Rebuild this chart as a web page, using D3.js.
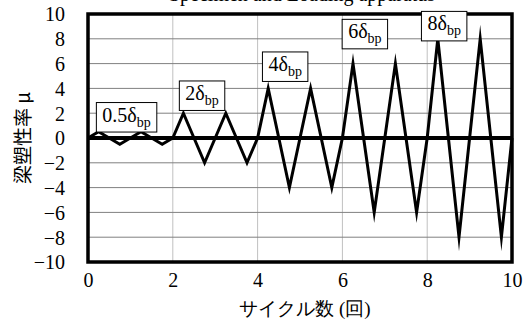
<!DOCTYPE html>
<html>
<head>
<meta charset="utf-8">
<script src="https://cdn.jsdelivr.net/npm/d3@7"></script>
<style>
  body { margin: 0; background: #fff; }
  text { font-family: "Liberation Serif", "Times New Roman", serif; }
</style>
</head>
<body>
<script>
// loading history: cycle number vs ductility ratio
var cycles = [0, 0.25, 0.5, 0.75, 1, 1.25, 1.5, 1.75, 2, 2.25, 2.5, 2.75, 3, 3.25, 3.5, 3.75, 4,
    4.25, 4.5, 4.75, 5, 5.25, 5.5, 5.75, 6, 6.25, 6.5, 6.75, 7, 7.25, 7.5, 7.75, 8,
    8.25, 8.5, 8.75, 9, 9.25, 9.5, 9.75, 10];
var mu = [0, 0.5, 0, -0.5, 0, 0.5, 0, -0.5, 0, 2, 0, -2, 0, 2, 0, -2, 0,
    4, 0, -4, 0, 4, 0, -4, 0, 6, 0, -6, 0, 6, 0, -6, 0,
    8, 0, -8, 0, 8, 0, -8, 0];

var xTicks = [0, 2, 4, 6, 8, 10];
var yTicks = [-10, -8, -6, -4, -2, 0, 2, 4, 6, 8, 10];

var labelAmp = ["0.5", "2", "4", "6", "8"];
var labelX = [0.91, 2.69, 4.65, 6.53, 8.4];
var labelY = [1.65, 3.39, 5.73, 8.36, 9.0];

var width = 529, height = 320;
var margin = {left: 88, right: 17, top: 14, bottom: 58};

var svg = d3.select("body").append("svg")
    .attr("width", width)
    .attr("height", height);

var x = d3.scaleLinear().domain([0, 10]).range([margin.left, width - margin.right]);
var y = d3.scaleLinear().domain([-10, 10]).range([height - margin.bottom, margin.top]);

// title, mostly cut off at the top (as in the source figure)
svg.append("text")
    .attr("x", 302)
    .attr("y", 1)
    .attr("text-anchor", "middle")
    .style("font-size", "20px")
    .text("Specimen and Loading apparatus");

// grid
svg.selectAll(".vgrid")
    .data(xTicks.slice(1, -1))
    .enter().append("line")
        .attr("class", "vgrid")
        .attr("x1", function(d) { return x(d) })
        .attr("x2", function(d) { return x(d) })
        .attr("y1", y(-10))
        .attr("y2", y(10))
        .style("stroke", "#c0c0c0")
        .style("stroke-width", 1);

svg.selectAll(".hgrid")
    .data(yTicks.slice(1, -1))
    .enter().append("line")
        .attr("class", "hgrid")
        .attr("x1", x(0))
        .attr("x2", x(10))
        .attr("y1", function(d) { return y(d) })
        .attr("y2", function(d) { return y(d) })
        .style("stroke", "#808080")
        .style("stroke-width", 1);

// axes labels
var xAxis = svg.append("g")
    .attr("transform", "translate(0," + y(-10) + ")")
    .call(d3.axisBottom(x).tickValues(xTicks).tickSize(0).tickPadding(21));
var yAxis = svg.append("g")
    .attr("transform", "translate(" + x(0) + ",0)")
    .call(d3.axisLeft(y).tickValues(yTicks).tickSize(0).tickPadding(23));
[xAxis, yAxis].forEach(function(a) {
    a.attr("font-family", null).attr("font-size", null);
    a.select(".domain").remove();
    a.selectAll("text")
        .style("font-size", "20px")
        .style("fill", "#000");
});
yAxis.selectAll("text").attr("dy", "0.34em");
xAxis.selectAll("text").attr("dy", "0.2em");

svg.append("text")
    .attr("x", 305)
    .attr("y", 315)
    .attr("text-anchor", "middle")
    .style("font-size", "19px")
    .text("サイクル数 (回)");

svg.append("text")
    .attr("transform", "translate(30," + y(0) + ") rotate(-90)")
    .attr("text-anchor", "middle")
    .style("font-family", "'Noto Sans CJK JP', sans-serif")
    .style("font-size", "19px")
    .style("fill", "#000")
    .text("梁塑性率 μ");

// zero line
svg.append("line")
    .attr("x1", x(0)).attr("x2", x(10))
    .attr("y1", y(0)).attr("y2", y(0))
    .style("stroke", "#000")
    .style("stroke-width", 4);

// loading path
var line = d3.line()
    .x(function(d, i) { return x(cycles[i]) })
    .y(function(d) { return y(d) });

svg.append("path")
    .datum(mu)
    .attr("d", line)
    .style("fill", "none")
    .style("stroke", "#000")
    .style("stroke-width", 3)
    .style("stroke-linejoin", "miter")
    .style("stroke-miterlimit", 20);

// plot border
svg.append("rect")
    .attr("x", x(0))
    .attr("y", y(10))
    .attr("width", x(10) - x(0))
    .attr("height", y(-10) - y(10))
    .style("fill", "none")
    .style("stroke", "#000")
    .style("stroke-width", 3.5);

// amplitude labels
var labels = svg.selectAll(".amp")
    .data(labelAmp)
    .enter().append("g")
        .attr("class", "amp")
        .attr("transform", function(d, i) { return "translate(" + x(labelX[i]) + "," + y(labelY[i]) + ")" });

var labelText = labels.append("text")
    .attr("text-anchor", "middle")
    .attr("y", 4)
    .style("font-size", "20px");
labelText.append("tspan").text(function(d) { return d + "δ" });
labelText.append("tspan")
    .attr("dy", 5)
    .style("font-size", "14px")
    .text("bp");

labels.each(function() {
    var g = d3.select(this);
    var bb = g.select("text").node().getBBox();
    g.insert("rect", "text")
        .attr("x", -bb.width / 2 - 6)
        .attr("y", -15)
        .attr("width", bb.width + 12)
        .attr("height", 29.5)
        .style("fill", "#fff")
        .style("stroke", "#000")
        .style("stroke-width", 1);
});
</script>
</body>
</html>
